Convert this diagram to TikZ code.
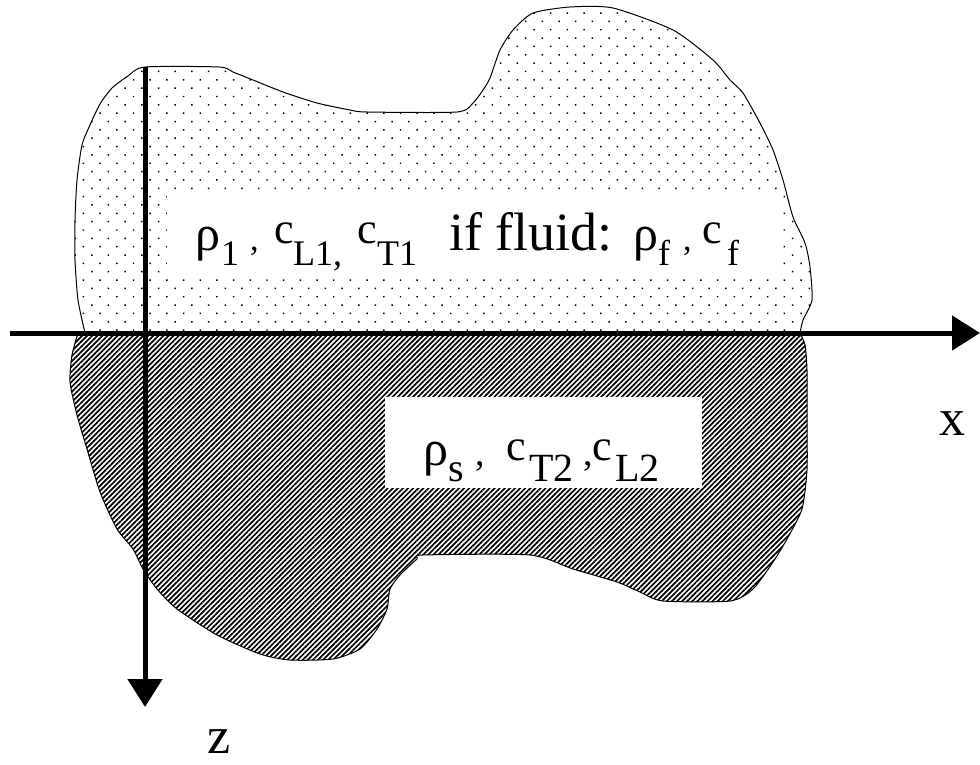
\documentclass[tikz,border=0pt]{standalone}
\usepackage{fontspec}
\setmainfont{Liberation Serif}
\usetikzlibrary{patterns.meta,arrows.meta}
\newcommand\fsz[1]{\fontsize{#1}{#1}\selectfont}
\newcommand\gl[4]{\makebox[0pt][l]{\hspace*{#1pt}\raisebox{#2pt}{\fsz{#3}#4}}}
\begin{document}
\begin{tikzpicture}[x=1pt,y=-1pt,
  outline/.style={line width=1pt},
  axis/.style={line width=5pt,-{Triangle[length=28pt,width=34pt]}},
  dotfill/.style={pattern={Dots[distance=11.8pt,angle=45,radius=1.05pt]}},
  hatchfill/.style={pattern={Lines[angle=45,distance=3.6pt,line width=1.7pt]}},
  whitebox/.style={fill=white,draw=none,inner sep=0pt},
  lbl/.style={inner sep=0pt,anchor=base west}]
\useasboundingbox (0,0) rectangle (980,764);
% upper medium
\draw[outline,dotfill] plot[smooth,tension=0.4] coordinates {(800,333) (803,320) (812,300) (810,267) (805,243) (793,217) (783,180) (773,150) (760,123) (743,93) (730,80) (713,60) (673,30) (613,8) (570,7) (533,13) (513,30) (500,50) (490,78) (483,90) (473,103) (457,112) (367,112) (350,110) (317,103) (283,92) (253,80) (233,72) (219,67) (145,67) (128,76) (112,88) (100,104) (90,125) (82,145) (77,180) (75,220) (75,260) (78,300) (85,333)} -- cycle;
% lower medium
\draw[outline,hatchfill] plot[smooth,tension=0.4] coordinates {(78,333) (72,355) (70,382) (77,415) (87,449) (100,492) (117,529) (133,549) (143,569) (157,589) (177,609) (217,635) (260,654) (290,660) (333,659) (360,649) (377,629) (387,609) (390,589) (400,575) (417,559) (423,555) (530,555) (573,569) (617,582) (640,592) (663,601) (730,601) (753,589) (773,562) (787,539) (802,509) (807,470) (807,420) (807,370) (805,345) (800,333)} -- cycle;
% white label boxes
\node[whitebox,minimum width=616pt,minimum height=83pt] (box1) at (475,233.5) {};
\node[whitebox,minimum width=317pt,minimum height=91pt] (box2) at (543.5,442.5) {};
% texts
\node[lbl] (t1) at (194,250) {\gl{1}{0}{50}{ρ}\gl{27}{-15}{36}{1}\gl{56}{0}{34}{,}\gl{80}{7}{44}{c}\gl{99}{-15}{36}{L1,}\gl{163}{7}{44}{c}\gl{183}{-15}{36}{T1}\gl{255}{0}{54}{if fluid:}\gl{439}{0}{50}{ρ}\gl{464}{-15}{36}{f}\gl{489}{0}{34}{,}\gl{508}{7}{44}{c}\gl{533}{-15}{36}{f}\hspace*{554pt}};
\node[lbl] (t2) at (423,465) {\gl{0}{0}{50}{ρ}\gl{25}{-16}{40}{s}\gl{52}{0}{38}{,}\gl{83}{5}{44}{c}\gl{106}{-16}{40}{T2}\gl{160}{0}{38}{,}\gl{169}{5}{44}{c}\gl{192}{-16}{40}{L2}\hspace*{240pt}};
% axes
\coordinate (xa) at (10,333);
\coordinate (xb) at (980,333);
\coordinate (za) at (145,67);
\coordinate (zb) at (145,707);
\draw[axis] (xa) -- (xb);
\draw[axis] (za) -- (zb);
\node[lbl] (xl) at (939,435) {\fsz{52}x};
\node[lbl] (zl) at (207,753) {\fsz{52}z};
\end{tikzpicture}
\end{document}
